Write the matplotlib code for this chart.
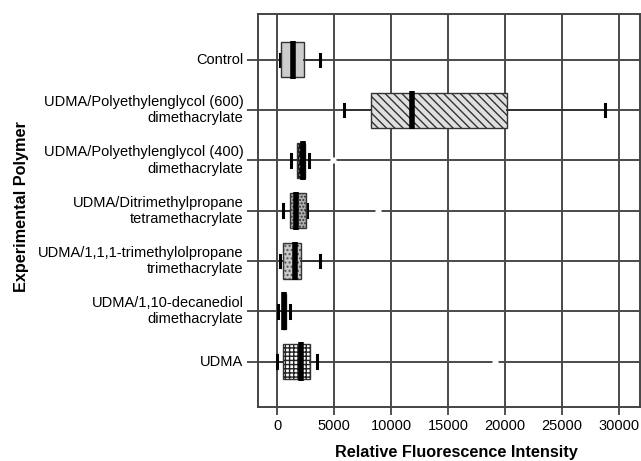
import numpy as np
import matplotlib.pyplot as plt
from matplotlib.patches import PathPatch

plt.rcParams['font.family'] = ['Liberation Sans', 'DejaVu Sans']

# categories from bottom to top
labels = ['UDMA',
          'UDMA/1,10-decanediol\ndimethacrylate',
          'UDMA/1,1,1-trimethylolpropane\ntrimethacrylate',
          'UDMA/Ditrimethylpropane\ntetramethacrylate',
          'UDMA/Polyethylenglycol (400)\ndimethacrylate',
          'UDMA/Polyethylenglycol (600)\ndimethacrylate',
          'Control']

whislo = [0, 110, 260, 550, 1230, 5900, 260]
q1 = [550, 410, 550, 1140, 1730, 8250, 330]
med = [2080, 610, 1600, 1640, 2250, 11800, 1380]
q3 = [2900, 790, 2080, 2540, 2460, 20200, 2370]
whishi = [3480, 1140, 3770, 2600, 2830, 28800, 3770]
outliers = [[19100], [], [], [8850], [4900], [], []]

faces = ['white', '#111111', '#c8c8c8', '#b0b0b0', '#1a1a1a', '#e0e0e0', '#cccccc']
hatches = ['++++', None, '....', '.....', '....', '\\\\\\\\', None]
hatch_cols = ['#222222', '#111111', '#555555', '#333333', '#888888', '#333333', '#cccccc']

fig = plt.figure(figsize=(6.41, 4.61), dpi=100)
ax = fig.add_axes([0.4025, 0.118, 0.596, 0.852])

stats = []
for i in range(len(labels)):
    stats.append({'whislo': whislo[i], 'q1': q1[i], 'med': med[i], 'q3': q3[i],
                  'whishi': whishi[i], 'fliers': outliers[i]})

pos = np.arange(len(labels))
bp = ax.bxp(stats, positions=pos, vert=False, widths=0.7, patch_artist=True,
            capwidths=0.25,
            whiskerprops=dict(color='#333333', lw=1.4),
            capprops=dict(color='black', lw=2.2),
            medianprops=dict(color='black', lw=4, solid_capstyle='butt'),
            flierprops=dict(marker='o', markerfacecolor='white', markeredgecolor='white',
                            markersize=3.5))

for i, box in enumerate(bp['boxes']):
    box.set_facecolor(faces[i])
    box.set_edgecolor(hatch_cols[i])
    if hatches[i]:
        box.set_hatch(hatches[i])
    box.set_linewidth(0.0)
    ax.add_patch(PathPatch(box.get_path(), fill=False, ec='#333333', lw=1.0, zorder=2.5))

for m in bp['medians']:
    y = m.get_ydata()
    m.set_ydata([y[0] - 0.03, y[1] + 0.03])
    m.set_zorder(3)

ax.set_xlim(-1670, 31850)
ax.set_ylim(-0.895, 6.915)
ax.set_xticks([0, 5000, 10000, 15000, 20000, 25000, 30000])
ax.set_yticks(pos)
ax.set_yticklabels([])

# category labels, right aligned line by line
for p, lab in zip(pos, labels):
    ax.annotate(lab, xy=(0, p), xycoords=('axes fraction', 'data'),
                xytext=(-10.5, 0), textcoords='offset points',
                ha='right', va='center', multialignment='right',
                fontsize=10.5, annotation_clip=False)

ax.set_axisbelow(True)
ax.grid(True, color='#4a4a4a', lw=1.4)
for s in ax.spines.values():
    s.set_color('#444444')
    s.set_linewidth(1.4)

ax.tick_params(axis='x', length=6, width=1.3, color='#444444', pad=3, labelsize=10.5)
ax.tick_params(axis='y', length=8, width=1.3, color='#444444', pad=2)

ax.set_xlabel('Relative Fluorescence Intensity', fontsize=11.7, fontweight='bold')
ax.set_ylabel('Experimental Polymer', fontsize=11.7, fontweight='bold')
ax.xaxis.set_label_coords(0.52, -0.097)
ax.yaxis.set_label_coords(-0.60, 0.51)

fig.savefig('out.png', dpi=100)
